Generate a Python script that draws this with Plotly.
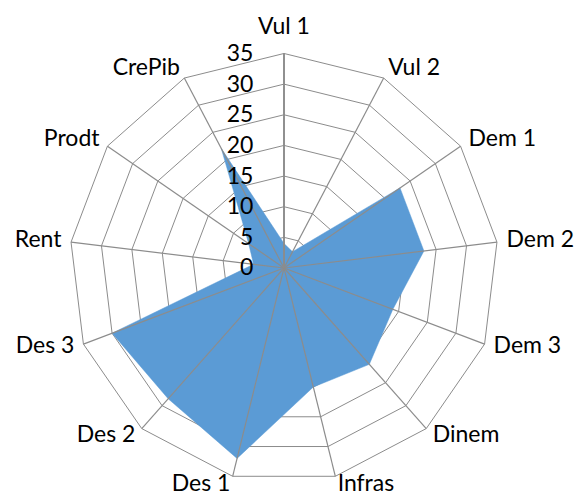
import plotly.graph_objects as go

categories = ["Vul 1", "Vul 2", "Dem 1", "Dem 2", "Dem 3", "Dinem", "Infras",
              "Des 1", "Des 2", "Des 3", "Rent", "Prodt", "CrePib"]
values = [4, 3, 23, 23, 19, 21, 20, 32, 28.5, 30, 5, 7, 22]
radial_ticks = [0, 5, 10, 15, 20, 25, 30, 35]

grid = "#8c8c8c"
font_family = "Lato, 'Open Sans', sans-serif"
r_max = 35
r_view = 37.2  # extra room so category labels fit inside the polar area

fig = go.Figure()
fig.add_trace(go.Scatterpolar(
    r=values + [values[0]],
    theta=categories + [categories[0]],
    fill="toself",
    fillcolor="#5B9BD5",
    line=dict(color="#5B9BD5", width=0.5),
    mode="lines",
    hoverinfo="skip",
))

# spokes from centre to the outer ring
spoke_r, spoke_t = [], []
for c in categories:
    spoke_r += [0, r_max, None]
    spoke_t += [c, c, None]
fig.add_trace(go.Scatterpolar(
    r=spoke_r, theta=spoke_t, mode="lines",
    line=dict(color=grid, width=1.2),
    hoverinfo="skip", connectgaps=False,
))
# main vertical axis line (slightly heavier)
fig.add_trace(go.Scatterpolar(
    r=[0, r_max], theta=[categories[0], categories[0]], mode="lines",
    line=dict(color=grid, width=1.8), hoverinfo="skip",
))

# category labels just outside the outer ring
n = len(categories)
label_r = [r_max * 1.062 if i == 0 else r_max * 1.045 for i in range(n)]
label_pos = []
for i in range(n):
    if i == 0:
        label_pos.append("top center")
    elif i <= n // 2:
        label_pos.append("middle right")
    else:
        label_pos.append("middle left")

fig.add_trace(go.Scatterpolar(
    r=label_r,
    theta=categories,
    mode="text",
    text=categories,
    textposition=label_pos,
    textfont=dict(size=23, family=font_family, color="black"),
    cliponaxis=False,
    hoverinfo="skip",
))

fig.update_layout(
    width=579, height=497,
    margin=dict(l=55.5, r=66.5, t=39.5, b=0.5),
    paper_bgcolor="white",
    plot_bgcolor="white",
    showlegend=False,
    font=dict(family=font_family, size=23, color="black"),
    polar=dict(
        bgcolor="white",
        gridshape="linear",
        angularaxis=dict(
            direction="clockwise",
            rotation=90,
            showline=False,
            showgrid=False,
            ticks="",
            showticklabels=False,
        ),
        radialaxis=dict(
            range=[0, r_view],
            tickvals=radial_ticks,
            ticktext=[str(v) for v in radial_ticks],
            angle=90,
            tickangle=90,
            side="counterclockwise",
            showline=False,
            gridcolor=grid,
            gridwidth=1.2,
            ticks="outside",
            ticklen=22,
            tickcolor="rgba(0,0,0,0)",
            tickfont=dict(size=23, family=font_family, color="black"),
            layer="above traces",
        ),
    ),
)

fig.write_html(
    "out.html",
    config={"displayModeBar": False},
    post_script="document.body.style.margin='0';document.body.style.overflow='hidden';",
)
